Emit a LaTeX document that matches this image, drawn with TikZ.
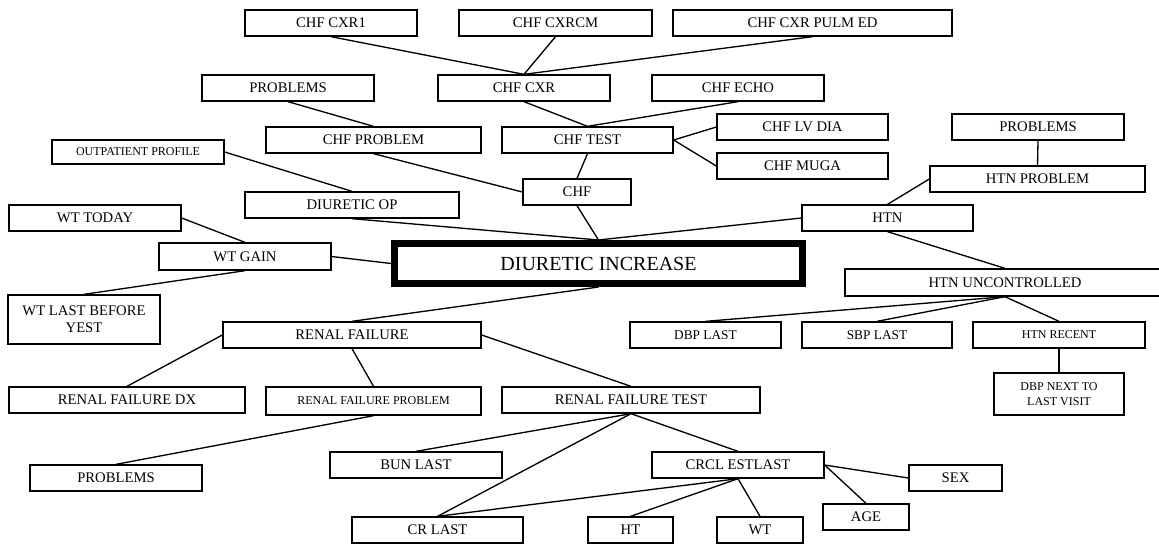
\documentclass[tikz,border=0pt]{standalone}
\usepackage{fontspec}
\setmainfont{Liberation Serif}
\usetikzlibrary{positioning}
\tikzset{
  box/.style={draw, line width=1pt, rectangle, inner sep=0pt, minimum height=26*0.75pt,
    font=\fontsize{11}{12.5}\selectfont, align=center},
  smallbox/.style={box, font=\fontsize{9}{11}\selectfont},
  midbox/.style={box, font=\fontsize{10}{12}\selectfont},
  mainbox/.style={box, line width=5.25pt, minimum height=40*0.75pt, font=\fontsize{15}{17}\selectfont},
  wd/.style={minimum width=#1*0.75pt},
  ht/.style={minimum height=#1*0.75pt},
  link/.style={line width=1pt}
}
\begin{document}
\begin{tikzpicture}[x=0.75pt, y=-0.75pt]
\useasboundingbox (0,0) rectangle (1159,544);
\clip (0,0) rectangle (1159,544);

\node[box, wd=172] (cxrone) at (331,23) {CHF CXR1};
\node[box, wd=193] (cxrcm) at (555.5,23) {CHF CXRCM};
\node[box, wd=279] (cxrpulm) at (812.5,23) {CHF CXR PULM ED};

\node[box, wd=172] (probtop) at (288,88) {PROBLEMS};
\node[box, wd=172] (cxr) at (524,88) {CHF CXR};
\node[box, wd=172] (echo) at (738,88) {CHF ECHO};

\node[box, wd=215] (chfprob) at (373.5,140) {CHF PROBLEM};
\node[box, wd=171] (chftest) at (587.5,140) {CHF TEST};
\node[box, wd=171] (lvdia) at (802.5,127) {CHF LV DIA};
\node[box, wd=171] (muga) at (802.5,166) {CHF MUGA};
\node[box, wd=172] (probhtn) at (1038,127) {PROBLEMS};
\node[box, wd=215] (htnprob) at (1037.5,179) {HTN PROBLEM};

\node[smallbox, wd=172, ht=24] (outpat) at (138,152) {OUTPATIENT PROFILE};
\node[box, wd=108] (chf) at (577,192) {CHF};
\node[box, wd=214] (diurop) at (352,205) {DIURETIC OP};
\node[box, wd=171] (htn) at (887.5,218) {HTN};
\node[box, wd=172] (wttoday) at (95,218) {WT TODAY};
\node[box, wd=172, ht=27] (wtgain) at (245,256.5) {WT GAIN};

\node[mainbox, wd=408] (diuinc) at (598.5,263.5) {DIURETIC INCREASE};

\node[box, wd=320, ht=27] (htnunc) at (1005,282.5) {HTN UNCONTROLLED};
\node[box, wd=152, ht=49] (wtlast) at (84,319.5) {WT LAST BEFORE\\YEST};

\node[box, wd=258] (renal) at (352,335) {RENAL FAILURE};
\node[midbox, wd=151] (dbplast) at (705.5,335) {DBP LAST};
\node[midbox, wd=150] (sbplast) at (877,335) {SBP LAST};
\node[smallbox, wd=172] (htnrec) at (1059,335) {HTN RECENT};

\node[box, wd=236] (renaldx) at (127,400) {RENAL FAILURE DX};
\node[smallbox, wd=215, ht=28] (renalprob) at (373.5,401) {RENAL FAILURE PROBLEM};
\node[box, wd=258] (renaltest) at (631,400) {RENAL FAILURE TEST};
\node[smallbox, wd=130, ht=42] (dbpnext) at (1059,394) {DBP NEXT TO\\LAST VISIT};

\node[box, wd=172] (probrenal) at (116,478) {PROBLEMS};
\node[box, wd=172] (bunlast) at (416,465) {BUN LAST};
\node[box, wd=172] (crcl) at (738,465) {CRCL ESTLAST};
\node[box, wd=93] (sex) at (955.5,478) {SEX};
\node[box, wd=86] (age) at (866,517) {AGE};
\node[box, wd=171] (crlast) at (437.5,530) {CR LAST};
\node[box, wd=85] (htbox) at (630.5,530) {HT};
\node[box, wd=86] (wt) at (760,530) {WT};

\draw[link] (cxrone.south) -- (cxr.north);
\draw[link] (cxrcm.south) -- (cxr.north);
\draw[link] (cxrpulm.south) -- (cxr.north);
\draw[link] (probtop.south) -- (chfprob.north);
\draw[link] (cxr.south) -- (chftest.north);
\draw[link] (echo.south) -- (chftest.north);
\draw[link] (chftest.east) -- (lvdia.west);
\draw[link] (chftest.east) -- (muga.west);
\draw[link] (probhtn.south) -- (htnprob.north);
\draw[link] (htnprob.west) -- (htn.north);
\draw[link] (chfprob.south) -- (chf.west);
\draw[link] (chftest.south) -- (chf.north);
\draw[link] (outpat.east) -- (diurop.north);
\draw[link] (chf.south) -- (diuinc.north);
\draw[link] (diurop.south) -- (diuinc.north);
\draw[link] (htn.west) -- (diuinc.north);
\draw[link] (htn.south) -- (htnunc.north);
\draw[link] (wttoday.east) -- (wtgain.north);
\draw[link] (wtgain.east) -- (diuinc.west);
\draw[link] (wtgain.south) -- (wtlast.north);
\draw[link] (diuinc.south) -- (renal.north);
\draw[link] (renal.west) -- (renaldx.north);
\draw[link] (renal.south) -- (renalprob.north);
\draw[link] (renal.east) -- (renaltest.north);
\draw[link] (renalprob.south) -- (probrenal.north);
\draw[link] (renaltest.south) -- (bunlast.north);
\draw[link] (renaltest.south) -- (crlast.north);
\draw[link] (renaltest.south) -- (crcl.north);
\draw[link] (crcl.south) -- (crlast.north);
\draw[link] (crcl.south) -- (htbox.north);
\draw[link] (crcl.south) -- (wt.north);
\draw[link] (crcl.east) -- (sex.west);
\draw[link] (crcl.east) -- (age.north);
\draw[link] (htnunc.south) -- (dbplast.north);
\draw[link] (htnunc.south) -- (sbplast.north);
\draw[link] (htnunc.south) -- (htnrec.north);
\draw[link] (htnrec.south) -- (dbpnext.north);
\end{tikzpicture}
\end{document}
